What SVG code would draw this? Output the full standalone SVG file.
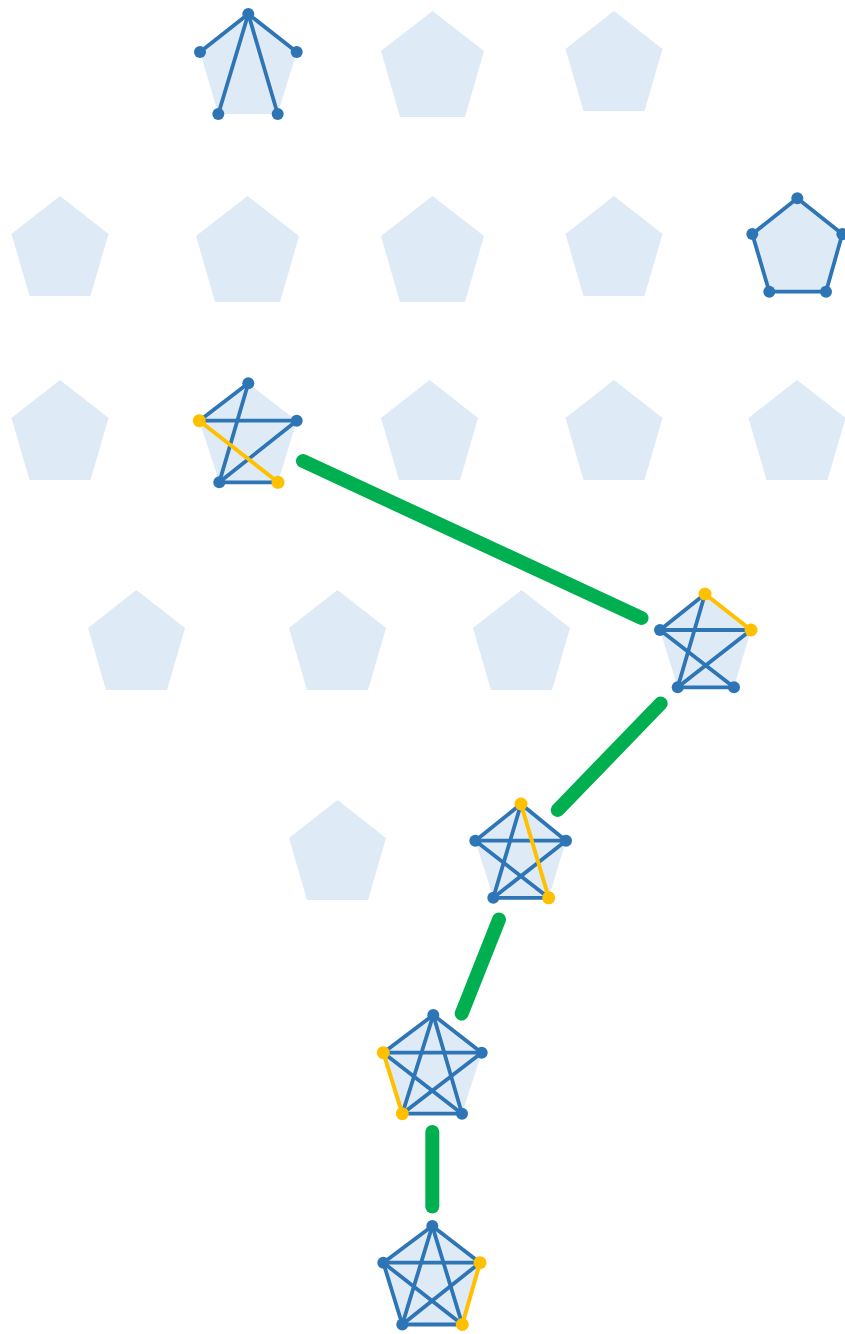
<svg xmlns="http://www.w3.org/2000/svg" xmlns:xlink="http://www.w3.org/1999/xlink" width="845" height="1334" viewBox="0 0 845 1334">
<style>
.pf{fill:#DEEAF6;stroke:none}
.e{stroke:#2E75B6;stroke-width:3.8;stroke-linecap:round;fill:none}
.y{stroke:#FFC000;stroke-width:4;stroke-linecap:round;fill:none}
.v{fill:#2E75B6}
.vy{fill:#FFC000}
.c{stroke:#00B050;stroke-width:14;stroke-linecap:round;fill:none}
</style>
<defs>
<polygon id="ps" class="pf" points="0,0 48.5,38 30.5,100 -30.5,100 -48.5,38"/>
<polygon id="pl" class="pf" points="0,0 51.5,40 32.5,106 -32.5,106 -51.5,40"/>
</defs>
<rect width="845" height="1334" fill="#fff"/>
<g id="plain">
<use id="p1" xlink:href="#pl" x="432.5" y="11"/>
<use id="p2" xlink:href="#ps" x="614" y="11"/>
<use id="p3" xlink:href="#ps" x="60" y="196"/>
<use id="p4" xlink:href="#pl" x="247.5" y="196"/>
<use id="p5" xlink:href="#pl" x="432.5" y="196"/>
<use id="p6" xlink:href="#ps" x="614" y="196"/>
<use id="p7" xlink:href="#ps" x="60" y="380"/>
<use id="p8" xlink:href="#ps" x="429.5" y="380"/>
<use id="p9" xlink:href="#ps" x="614" y="380"/>
<use id="p10" xlink:href="#ps" x="797" y="380"/>
<use id="p11" xlink:href="#ps" x="136.5" y="590"/>
<use id="p12" xlink:href="#ps" x="337.5" y="590"/>
<use id="p13" xlink:href="#ps" x="521.5" y="590"/>
<use id="p14" xlink:href="#ps" x="337.5" y="800"/>
</g>
<g id="connectors">
<line class="c" x1="303" y1="461" x2="641.5" y2="618"/>
<line class="c" x1="660.7" y1="703.5" x2="557.7" y2="810"/>
<line class="c" x1="499" y1="919.5" x2="461.7" y2="1013.5"/>
<line class="c" x1="432.3" y1="1132" x2="432.3" y2="1206.5"/>
</g>
<g id="g1">
<polygon class="pf" points="248.3,14 296.7,52 277.7,114 218.3,114 200,52"/>
<line class="e" x1="248.3" y1="14" x2="200" y2="52"/>
<line class="e" x1="248.3" y1="14" x2="296.7" y2="52"/>
<line class="e" x1="248.3" y1="14" x2="218.3" y2="114"/>
<line class="e" x1="248.3" y1="14" x2="277.7" y2="114"/>
<circle class="v" cx="248.3" cy="14" r="6"/>
<circle class="v" cx="200" cy="52" r="6"/>
<circle class="v" cx="296.7" cy="52" r="6"/>
<circle class="v" cx="218.3" cy="114" r="6"/>
<circle class="v" cx="277.7" cy="114" r="6"/>
</g>
<g id="g2">
<polygon class="pf" points="797.3,198.3 842.3,234 826,291.7 769.3,291.7 752.3,234"/>
<polygon class="e" points="797.3,198.3 842.3,234 826,291.7 769.3,291.7 752.3,234" stroke-linejoin="round"/>
<circle class="v" cx="797.3" cy="198.3" r="6"/>
<circle class="v" cx="842.3" cy="234" r="6"/>
<circle class="v" cx="826" cy="291.7" r="6"/>
<circle class="v" cx="769.3" cy="291.7" r="6"/>
<circle class="v" cx="752.3" cy="234" r="6"/>
</g>
<g id="g3">
<polygon class="pf" points="248.3,383.3 296.7,420.7 278,482.3 219.3,482.3 199.3,420.7"/>
<line class="e" x1="248.3" y1="383.3" x2="199.3" y2="420.7"/>
<line class="e" x1="199.3" y1="420.7" x2="296.7" y2="420.7"/>
<line class="e" x1="248.3" y1="383.3" x2="219.3" y2="482.3"/>
<line class="e" x1="296.7" y1="420.7" x2="219.3" y2="482.3"/>
<line class="e" x1="219.3" y1="482.3" x2="278" y2="482.3"/>
<line class="y" x1="199.3" y1="420.7" x2="278" y2="482.3"/>
<circle class="v" cx="248.3" cy="383.3" r="6"/>
<circle class="v" cx="296.7" cy="420.7" r="6"/>
<circle class="v" cx="219.3" cy="482.3" r="6"/>
<circle class="vy" cx="199.3" cy="420.7" r="6.5"/>
<circle class="vy" cx="278" cy="482.3" r="6.5"/>
</g>
<g id="g4">
<polygon class="pf" points="705,594 751,630 734,687.3 677.7,687.3 660,630"/>
<line class="e" x1="705" y1="594" x2="660" y2="630"/>
<line class="e" x1="660" y1="630" x2="751" y2="630"/>
<line class="e" x1="705" y1="594" x2="677.7" y2="687.3"/>
<line class="e" x1="660" y1="630" x2="734" y2="687.3"/>
<line class="e" x1="751" y1="630" x2="677.7" y2="687.3"/>
<line class="e" x1="677.7" y1="687.3" x2="734" y2="687.3"/>
<line class="y" x1="705" y1="594" x2="751" y2="630"/>
<circle class="v" cx="660" cy="630" r="6"/>
<circle class="v" cx="677.7" cy="687.3" r="6"/>
<circle class="v" cx="734" cy="687.3" r="6"/>
<circle class="vy" cx="705" cy="594" r="6.5"/>
<circle class="vy" cx="751" cy="630" r="6.5"/>
</g>
<g id="g5">
<polygon class="pf" points="521,804 566,840.7 548.7,897.8 493.3,897.8 475.3,840.7"/>
<line class="e" x1="521" y1="804" x2="475.3" y2="840.7"/>
<line class="e" x1="521" y1="804" x2="566" y2="840.7"/>
<line class="e" x1="475.3" y1="840.7" x2="566" y2="840.7"/>
<line class="e" x1="521" y1="804" x2="493.3" y2="897.8"/>
<line class="e" x1="475.3" y1="840.7" x2="548.7" y2="897.8"/>
<line class="e" x1="566" y1="840.7" x2="493.3" y2="897.8"/>
<line class="e" x1="493.3" y1="897.8" x2="548.7" y2="897.8"/>
<line class="y" x1="521" y1="804" x2="548.7" y2="897.8"/>
<circle class="v" cx="475.3" cy="840.7" r="6"/>
<circle class="v" cx="566" cy="840.7" r="6"/>
<circle class="v" cx="493.3" cy="897.8" r="6"/>
<circle class="vy" cx="521" cy="804" r="6.5"/>
<circle class="vy" cx="548.7" cy="897.8" r="6.5"/>
</g>
<g id="g6">
<polygon class="pf" points="433.3,1015 481.7,1052.7 462,1113.7 402.3,1113.7 383.3,1052.7"/>
<line class="e" x1="433.3" y1="1015" x2="383.3" y2="1052.7"/>
<line class="e" x1="433.3" y1="1015" x2="481.7" y2="1052.7"/>
<line class="e" x1="383.3" y1="1052.7" x2="481.7" y2="1052.7"/>
<line class="e" x1="433.3" y1="1015" x2="402.3" y2="1113.7"/>
<line class="e" x1="433.3" y1="1015" x2="462" y2="1113.7"/>
<line class="e" x1="383.3" y1="1052.7" x2="462" y2="1113.7"/>
<line class="e" x1="481.7" y1="1052.7" x2="402.3" y2="1113.7"/>
<line class="e" x1="402.3" y1="1113.7" x2="462" y2="1113.7"/>
<line class="y" x1="383.3" y1="1052.7" x2="402.3" y2="1113.7"/>
<circle class="v" cx="433.3" cy="1015" r="6"/>
<circle class="v" cx="481.7" cy="1052.7" r="6"/>
<circle class="v" cx="462" cy="1113.7" r="6"/>
<circle class="vy" cx="383.3" cy="1052.7" r="6.5"/>
<circle class="vy" cx="402.3" cy="1113.7" r="6.5"/>
</g>
<g id="g7">
<polygon class="pf" points="432.3,1226 480,1262.7 462.3,1324.5 402.3,1324.5 383.3,1262.7"/>
<line class="e" x1="432.3" y1="1226" x2="383.3" y2="1262.7"/>
<line class="e" x1="432.3" y1="1226" x2="480" y2="1262.7"/>
<line class="e" x1="383.3" y1="1262.7" x2="480" y2="1262.7"/>
<line class="e" x1="432.3" y1="1226" x2="402.3" y2="1324.5"/>
<line class="e" x1="432.3" y1="1226" x2="462.3" y2="1324.5"/>
<line class="e" x1="383.3" y1="1262.7" x2="462.3" y2="1324.5"/>
<line class="e" x1="480" y1="1262.7" x2="402.3" y2="1324.5"/>
<line class="e" x1="383.3" y1="1262.7" x2="402.3" y2="1324.5"/>
<line class="e" x1="402.3" y1="1324.5" x2="462.3" y2="1324.5"/>
<line class="y" x1="480" y1="1262.7" x2="462.3" y2="1324.5"/>
<circle class="v" cx="432.3" cy="1226" r="6"/>
<circle class="v" cx="383.3" cy="1262.7" r="6"/>
<circle class="v" cx="402.3" cy="1324.5" r="6"/>
<circle class="vy" cx="480" cy="1262.7" r="6.5"/>
<circle class="vy" cx="462.3" cy="1324.5" r="6.5"/>
</g>
</svg>
